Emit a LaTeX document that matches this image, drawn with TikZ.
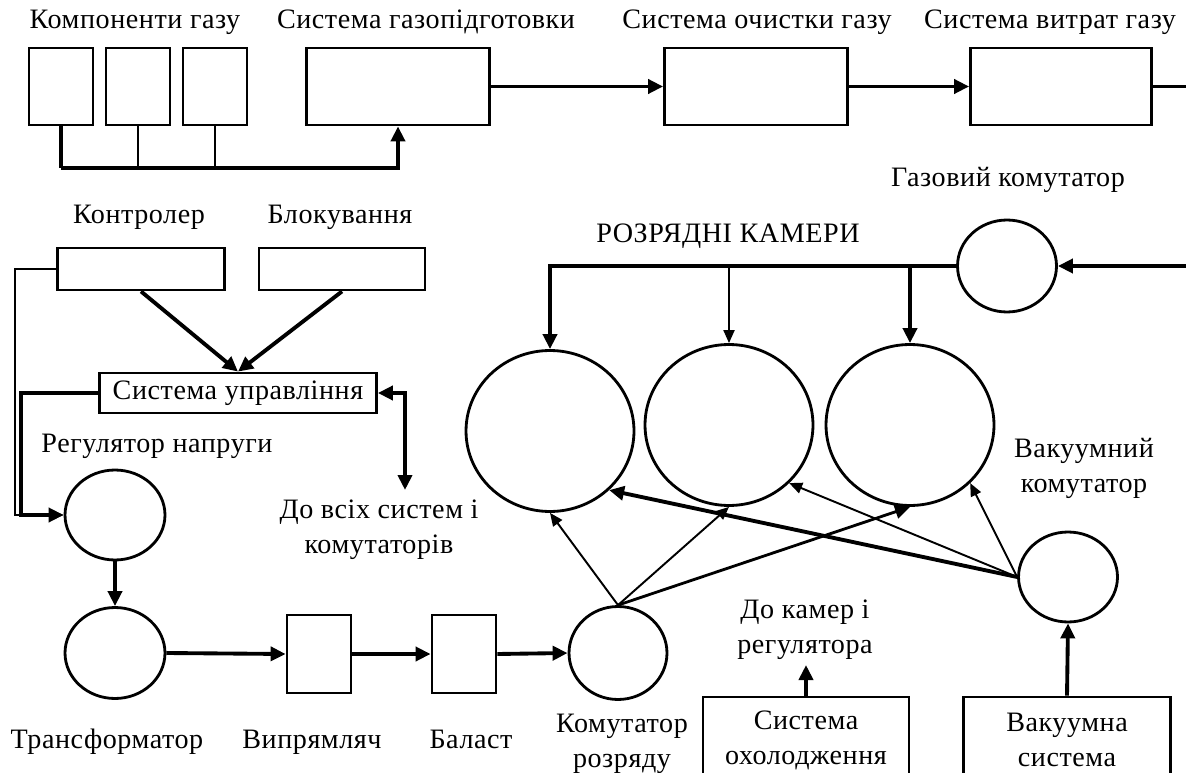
\documentclass[tikz,border=0pt]{standalone}
\usepackage{fontspec}
\setmainfont{Liberation Serif}[LetterSpace=2]
\usetikzlibrary{arrows.meta,shapes.geometric}
\tikzset{box node/.style 2 args={draw,line width=1.6pt,inner sep=0pt,minimum width=#1,minimum height=#2},
round node/.style 2 args={ellipse,draw,line width=1.6pt,inner sep=0pt,minimum width=#1,minimum height=#2}}

\begin{document}
\begin{tikzpicture}[x=0.02cm,y=-0.02cm,>={Triangle[length=0.3cm,width=0.28cm]},
                    font=\fontsize{16}{20}\selectfont,
                    bold line/.style={line width=2.2pt},
                    mid line/.style={line width=1.6pt},
                    fine line/.style={line width=1.1pt,>={Triangle[length=0.26cm,width=0.22cm]}}]
\useasboundingbox (0,0) rectangle (1186,773);
\clip (0,0) rectangle (1186,773);

% gas line
\foreach \i/\x in {1/61,2/138,3/215}
   \node[box node={1.28cm}{1.54cm}] (comp\i) at (\x,86.5) {};
\node[box node={3.66cm}{1.54cm}] (prep) at (398,86.5) {};
\node[box node={3.66cm}{1.54cm}] (clean) at (756,86.5) {};
\node[box node={3.62cm}{1.54cm}] (flow) at (1061,86.5) {};

\node[anchor=base] (compLabel) at (135,29) {Компоненти газу};
\node[anchor=base] (prepLabel) at (426,29) {Система газопідготовки};
\node[anchor=base] (cleanLabel) at (757,29) {Система очистки газу};
\node[anchor=base] (flowLabel) at (1050,29) {Система витрат газу};

\coordinate (busEnd) at (398,168);
\coordinate (flowOut) at (1186,86.5);
\foreach \i/\w in {1/2.2pt,2/1.6pt,3/1.1pt}
   \draw[line width=\w] (comp\i.south) -- (comp\i.south |- busEnd);
\draw[bold line,->] (comp1.south |- busEnd) -- (busEnd) -- (prep.south);
\draw[bold line,->] (prep.east) -- (clean.west);
\draw[bold line,->] (clean.east) -- (flow.west);
\draw[bold line] (flow.east) -- (flowOut);

% control
\node[anchor=base] (ctrlLabel) at (139,224) {Контролер};
\node[anchor=base] (lockLabel) at (340,224) {Блокування};
\node[box node={3.34cm}{0.84cm}] (ctrl) at (141,269) {};
\node[box node={3.32cm}{0.84cm}] (lock) at (342,269) {};
\node[box node={5.54cm}{0.8cm}] (csys) at (238,393) {Система управління};
\draw[bold line,->] (ctrl.south) -- (csys.north);
\draw[bold line,->] (lock.south) -- (csys.north);

\node[anchor=base] (regLabel) at (157,452) {Регулятор напруги};
\node[align=center] (allLabel) at (379,530) {До всіх систем і\\комутаторів};
\coordinate (allSys) at (405,490);
\draw[bold line,{Triangle[length=0.3cm,width=0.28cm]}->] (csys.east) -| (allSys);

% power chain
\node[round node={2cm}{1.8cm}] (reg) at (115,515) {};
\node[round node={2cm}{1.82cm}] (trans) at (115,653) {};
\node[box node={1.28cm}{1.56cm}] (rect) at (319,654) {};
\node[box node={1.28cm}{1.56cm}] (ball) at (464,654) {};
\node[round node={1.96cm}{1.86cm}] (dsw) at (618,653) {};

\coordinate (ctrlBend) at (15,269);
\coordinate (csysBend) at (21,393);
\draw[fine line,->] (ctrl.west) -- (ctrlBend) |- (reg.west);
\draw[bold line,->] (csys.west) -- (csysBend) |- (reg.west);
\draw[bold line,->] (reg.south) -- (trans.north);
\draw[bold line,->] (trans.east) -- (rect.west);
\draw[bold line,->] (rect.east) -- (ball.west);
\draw[bold line,->] (ball.east) -- (dsw.west);

\node[anchor=base] (transLabel) at (107,748) {Трансформатор};
\node[anchor=base] (rectLabel) at (312,748) {Випрямляч};
\node[anchor=base] (ballLabel) at (471,748) {Баласт};
\node[align=center] (dswLabel) at (622,744) {Комутатор\\розряду};

% chambers
\node[anchor=base] (camLabel) at (728,243) {РОЗРЯДНІ КАМЕРИ};
\foreach \i/\x/\y in {1/550/431,2/729/425,3/910/425}
   \node[round node={3.36cm}{3.22cm}] (cam\i) at (\x,\y) {};

\node[anchor=base] (gswLabel) at (1008,187) {Газовий комутатор};
\node[round node={1.98cm}{1.84cm}] (gsw) at (1007,266) {};
\coordinate (gasIn) at (1186,266);
\draw[bold line,->] (gasIn) -- (gsw.east);
\draw[bold line,->] (gsw.west) -| (cam1.north);
\draw[fine line,->] (cam2.north |- gsw.west) -- (cam2.north);
\draw[bold line,->] (cam3.north |- gsw.west) -- (cam3.north);

\draw[fine line,->] (dsw.north) -- (cam1.south);
\draw[fine line,->] (dsw.north) -- (cam2.south);
\draw[mid line,->] (dsw.north) -- (cam3.south);

% vacuum
\node[align=center] (vswLabel) at (1084,468) {Вакуумний\\комутатор};
\node[round node={1.98cm}{1.8cm}] (vsw) at (1068,577) {};
\draw[bold line,->] (vsw.west) -- (cam1.-45);
\draw[fine line,->] (vsw.west) -- (cam2.-44);
\draw[fine line,->] (vsw.west) -- (cam3.-44);

\node[box node={4.14cm}{1.72cm},align=center] (vac) at (1067,740) {Вакуумна\\система};
\draw[bold line,->] (vac.north) -- (vsw.south);

\node[box node={4.12cm}{1.72cm},align=center] (cool) at (806,740) {Система\\охолодження};
\node[align=center] (coolLabel) at (805,630) {До камер і\\регулятора};
\coordinate (coolOut) at (806,665);
\draw[bold line,->] (cool.north) -- (coolOut);
\end{tikzpicture}
\end{document}
